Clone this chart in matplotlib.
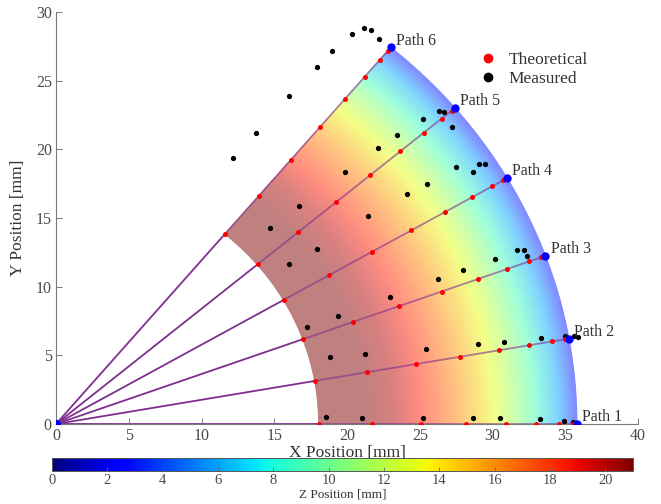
import numpy as np
import matplotlib
matplotlib.use("Agg")
import matplotlib.pyplot as plt
from matplotlib.lines import Line2D
from matplotlib.cm import ScalarMappable
from matplotlib.colors import Normalize, ListedColormap

plt.rcParams["font.family"] = ["Liberation Serif", "DejaVu Serif"]

# ---------------------------------------------------------------------------
# Data
# ---------------------------------------------------------------------------
PATH_ANGLES = [0, 10, 20, 30, 40, 50]          # deg
PATH_LABELS = ["Path 1", "Path 2", "Path 3", "Path 4", "Path 5", "Path 6"]
END_RADIUS = 35.8                               # mm, blue end markers
INNER_RADIUS = 18.05                            # mm, inner edge of the surface

# theoretical sample radii along every path [mm]
THEORY_RADII = [18.1, 21.7, 25.1, 28.2, 30.9, 33.0, 34.6, 35.5]

# measured positions per path [mm]
MEAS_X = [
    [18.56, 21.00, 25.24, 28.68, 30.54, 33.24, 34.93, 35.52],
    [18.80, 21.24, 25.43, 29.00, 30.76, 33.30, 34.98, 35.60, 35.90],
    [17.22, 19.40, 22.96, 26.23, 27.99, 30.19, 31.66, 32.14, 32.37],
    [16.01, 17.92, 21.46, 24.14, 25.52, 27.49, 28.68, 29.09, 29.50],
    [14.71, 16.70, 19.84, 22.11, 23.47, 25.20, 26.29, 26.69, 27.24],
    [12.19, 13.73, 16.01, 17.92, 18.97, 20.32, 21.19, 21.63, 22.20],
]
MEAS_Y = [
    [0.52, 0.44, 0.44, 0.46, 0.41, 0.34, 0.22, 0.17],
    [4.87, 5.08, 5.48, 5.85, 6.00, 6.25, 6.38, 6.38, 6.31],
    [7.09, 7.89, 9.25, 10.58, 11.25, 12.02, 12.65, 12.65, 12.24],
    [11.67, 12.77, 15.13, 16.77, 17.50, 18.74, 18.32, 18.94, 18.94],
    [14.28, 15.86, 18.38, 20.10, 21.05, 22.21, 22.76, 22.72, 21.65],
    [19.40, 21.17, 23.89, 26.00, 27.17, 28.38, 28.86, 28.72, 28.02],
]

# surface height profile against radius [mm]
SURF_R = [18.05, 21.0, 23.0, 25.0, 28.0, 30.0, 31.5, 33.0, 34.5, 35.2, 35.8]
SURF_Z = [22.0, 21.5, 20.1, 18.5, 15.6, 13.3, 11.3, 8.9, 6.1, 4.5, 3.0]

Z_MIN, Z_MAX = 0.0, 21.0
SURF_ALPHA = 0.5

PATH_COLOR = "#7E2F8E"
AXIS_GRAY = "#7a7a7a"
TEXT_GRAY = "#4a4a4a"

# jet washed towards white: the translucent surface seen over a white page
_jet = plt.get_cmap("jet")(np.linspace(0, 1, 256))
_jet[:, :3] = SURF_ALPHA * _jet[:, :3] + (1 - SURF_ALPHA)
washed_jet = ListedColormap(_jet)

# ---------------------------------------------------------------------------
# Figure
# ---------------------------------------------------------------------------
W, H = 661, 504
fig = plt.figure(figsize=(W / 100, H / 100), dpi=100)
ax = fig.add_axes([56 / W, 1 - 424 / H, (638 - 56) / W, (424 - 12) / H])

# surface over the annular sector
theta = np.deg2rad(np.linspace(PATH_ANGLES[0], PATH_ANGLES[-1], 121))
rr, tt = np.meshgrid(np.asarray(SURF_R), theta)
zz = np.broadcast_to(np.asarray(SURF_Z), rr.shape)
ax.pcolormesh(rr * np.cos(tt), rr * np.sin(tt), zz, shading="gouraud",
              cmap=washed_jet, vmin=Z_MIN, vmax=Z_MAX, zorder=2)

# path lines: solid outside the surface, seen through it inside
for ang in PATH_ANGLES:
    c, s = np.cos(np.deg2rad(ang)), np.sin(np.deg2rad(ang))
    ax.plot([0, INNER_RADIUS * c], [0, INNER_RADIUS * s],
            color=PATH_COLOR, lw=1.3, zorder=1)
    ax.plot([INNER_RADIUS * c, END_RADIUS * c], [INNER_RADIUS * s, END_RADIUS * s],
            color=PATH_COLOR, lw=1.3, alpha=0.6, zorder=3)

# theoretical points, measured points, path ends
for ang in PATH_ANGLES:
    t = np.deg2rad(ang)
    r = np.asarray(THEORY_RADII)
    ax.plot(r * np.cos(t), r * np.sin(t), "o", color="red", ms=3.6,
            mec="none", zorder=5)
for mx, my in zip(MEAS_X, MEAS_Y):
    ax.plot(mx, my, "o", color="black", ms=3.8, mec="none", zorder=4)
for ang, label in zip(PATH_ANGLES, PATH_LABELS):
    t = np.deg2rad(ang)
    ex, ey = END_RADIUS * np.cos(t), END_RADIUS * np.sin(t)
    ax.plot([0, ex], [0, ey], "o", color="blue", ms=6, mec="none", zorder=6)
    ax.text(ex + 0.35, ey + 0.5, label, fontsize=11.5, color="#333333",
            ha="left", va="center", zorder=7)

ax.set_xlim(0, 40)
ax.set_ylim(0, 30)
ax.set_xticks(range(0, 41, 5))
ax.set_yticks(range(0, 31, 5))
for side in ("top", "right"):
    ax.spines[side].set_visible(False)
for side in ("left", "bottom"):
    ax.spines[side].set_color(AXIS_GRAY)
    ax.spines[side].set_linewidth(0.8)
ax.tick_params(direction="in", length=4, width=0.7, color=AXIS_GRAY,
               labelcolor=TEXT_GRAY, labelsize=11.5, pad=3)
ax.set_xlabel("X Position [mm]", fontsize=12.5, color="#333333")
ax.xaxis.set_label_coords(0.5, -0.052)
ax.set_ylabel("Y Position [mm]", fontsize=12.5, color="#333333")
ax.yaxis.set_label_coords(-0.052, 0.5)

handles = [
    Line2D([], [], ls="none", marker="o", color="red", ms=7, mec="none"),
    Line2D([], [], ls="none", marker="o", color="black", ms=7, mec="none"),
]
ax.legend(handles, ["Theoretical", "Measured"], loc="upper left",
          bbox_to_anchor=(0.697, 0.94), frameon=False, fontsize=12.5,
          handletextpad=0.6, labelspacing=0.15, handlelength=1.2,
          labelcolor="#333333")

# colour bar for the surface height
cax = fig.add_axes([52 / W, 1 - 471 / H, (633 - 52) / W, 13 / H])
sm = ScalarMappable(norm=Normalize(Z_MIN, Z_MAX), cmap="jet")
cb = fig.colorbar(sm, cax=cax, orientation="horizontal")
cb.set_ticks(range(0, 21, 2))
cb.outline.set_edgecolor("#555555")
cb.outline.set_linewidth(0.7)
cax.tick_params(direction="in", length=3, width=0.6, color="#666666",
                labelcolor=TEXT_GRAY, labelsize=10.5, pad=2)
cb.set_label("Z Position [mm]", fontsize=9.5, color="#333333", labelpad=1.5)

fig.savefig("out.png", dpi=100)
